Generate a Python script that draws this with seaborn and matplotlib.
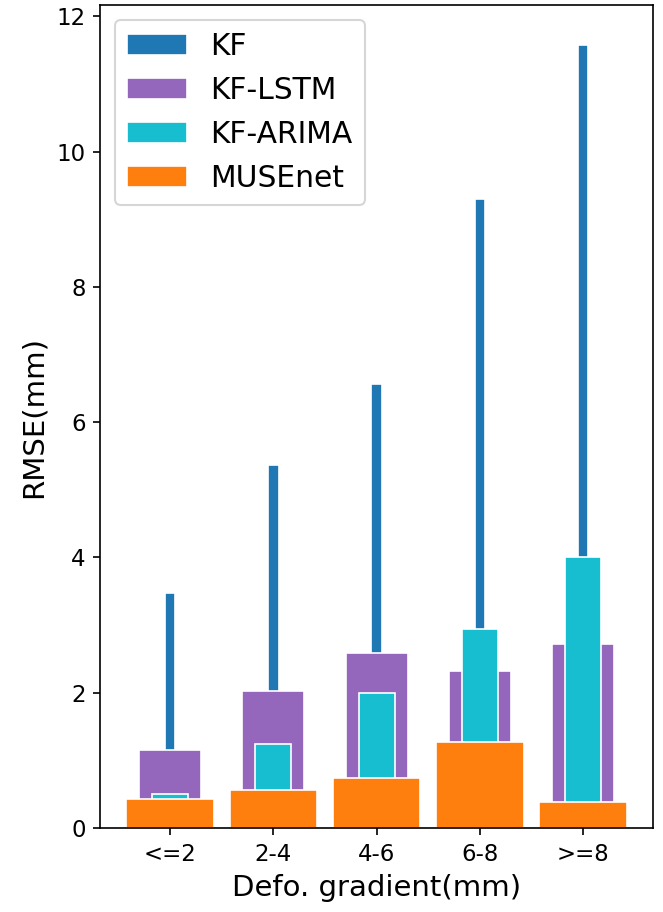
import matplotlib
matplotlib.use("Agg")
import matplotlib.pyplot as plt
import seaborn as sns
import pandas as pd

# RMSE per deformation-gradient bin for each method
categories = ["<=2", "2-4", "4-6", "6-8", ">=8"]
kf = [3.47, 5.37, 6.56, 9.30, 11.57]
kf_lstm = [1.15, 2.03, 2.59, 2.32, 2.72]
kf_arima = [0.50, 1.25, 2.00, 2.94, 4.01]
musenet = [0.43, 0.57, 0.74, 1.27, 0.39]

series = [
    ("KF", kf, "#1f77b4", 0.10),
    ("KF-LSTM", kf_lstm, "#9467bd", 0.60),
    ("KF-ARIMA", kf_arima, "#17becf", 0.35),
    ("MUSEnet", musenet, "#ff7f0e", 0.85),
]

fig, ax = plt.subplots(figsize=(4.42, 6.08), dpi=150)
fig.subplots_adjust(left=0.151, right=0.985, bottom=0.092, top=0.994)

for name, vals, color, w in series:
    df = pd.DataFrame({"bin": categories, "rmse": vals})
    sns.barplot(data=df, x="bin", y="rmse", color=color, width=w,
                saturation=1, edgecolor="white", linewidth=0.8,
                label=name, ax=ax, errorbar=None)

ax.set_xlabel("Defo. gradient(mm)", fontsize=14)
ax.set_ylabel("RMSE(mm)", fontsize=14)
ax.tick_params(labelsize=11)
ax.set_xlim(-0.68, 4.68)
ax.set_ylim(0, 12.16)
ax.legend(loc="upper left", fontsize=14.3)

fig.savefig("out.png", dpi=150)
